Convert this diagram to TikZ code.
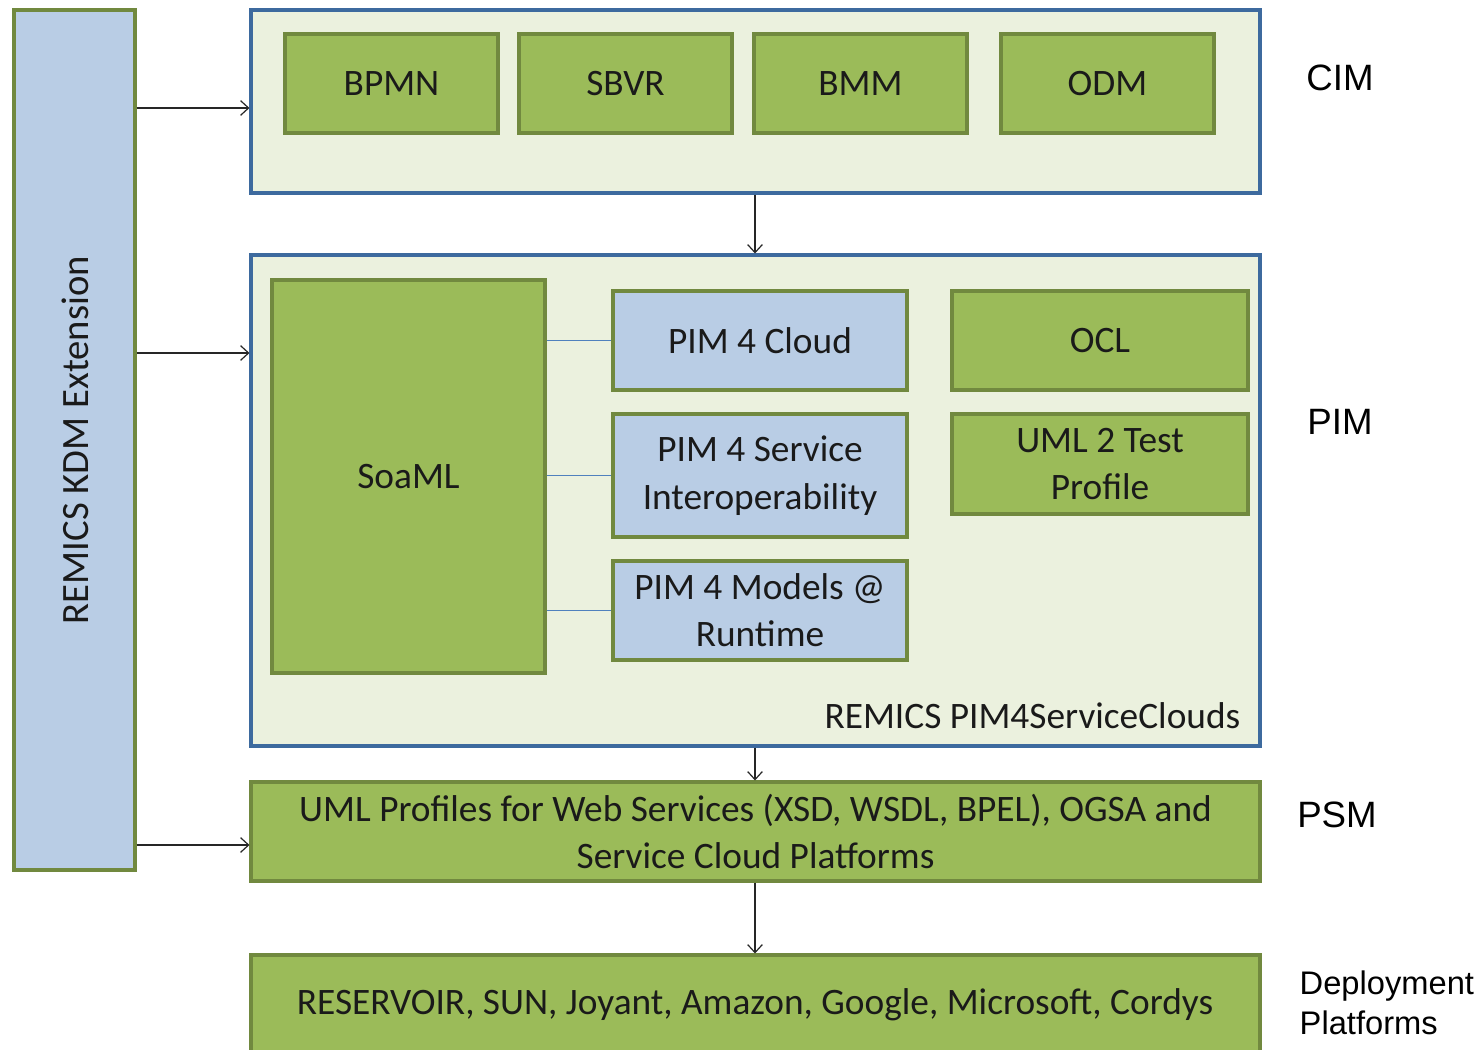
\documentclass[tikz,border=0pt]{standalone}
\usepackage{fontspec}
\setmainfont{Carlito}
\newfontfamily\arialf{Liberation Sans}
\usetikzlibrary{arrows.meta}
\definecolor{gfill}{HTML}{9BBB59}
\definecolor{gborder}{HTML}{71893F}
\definecolor{bfill}{HTML}{B9CDE5}
\definecolor{cfill}{HTML}{EBF1DE}
\definecolor{cborder}{HTML}{3D6A9E}
\definecolor{lnblue}{HTML}{4F81BD}
\definecolor{txt}{HTML}{1A1A1A}
\tikzset{
  sz/.style 2 args={minimum width=#1*0.75pt, minimum height=#2*0.75pt},
  boxfont/.style={text=txt, font=\fontsize{28}{35.5}\selectfont, align=center},
  greenbox/.style={draw=gborder, fill=gfill, line width=2.3pt, inner sep=0pt, boxfont},
  bluebox/.style={draw=gborder, fill=bfill, line width=2.3pt, inner sep=0pt, boxfont},
  container/.style={draw=cborder, fill=cfill, line width=2.3pt, inner sep=0pt},
  arr/.style={-{Straight Barb[length=6pt,width=11pt]}, line width=0.9pt, draw=black!85},
  link/.style={draw=lnblue, line width=0.8pt},
  side/.style={font=\arialf\fontsize{27.5}{30}\selectfont, text=black}
}
\begin{document}
\begin{tikzpicture}[x=0.75pt,y=-0.75pt]
\clip (0,0) rectangle (1484,1049);
\fill[white] (0,0) rectangle (1484,1049);
% KDM
\node[bluebox, sz={121}{860}] (kdm) at (74.5,440) {};
\node[rotate=90, boxfont, font=\fontsize{29}{34}\selectfont] (kdmt) at (75,440) {REMICS KDM Extension};
% CIM container
\node[container, sz={1009}{183}] (cim) at (755.5,101.5) {};
\node[greenbox, sz={213}{99}] (bpmn) at (391.5,83.5) {BPMN};
\node[greenbox, sz={213}{99}] (sbvr) at (625.5,83.5) {SBVR};
\node[greenbox, sz={213}{99}] (bmm) at (860.5,83.5) {BMM};
\node[greenbox, sz={213}{99}] (odm) at (1107.5,83.5) {ODM};
% PIM container
\node[container, sz={1009}{491}] (pim) at (755.5,500.5) {};
\node[greenbox, sz={273}{393}] (soaml) at (408.5,476.5) {SoaML};
\node[bluebox, sz={294}{99}] (pc) at (760,340.5) {PIM 4 Cloud};
\node[bluebox, sz={294}{123}] (psi) at (760,475.5) {PIM 4 Service\\Interoperability};
\node[bluebox, sz={294}{99}] (pmr) at (760,610.5) {PIM 4 Models @\\Runtime};
\node[greenbox, sz={296}{99}] (ocl) at (1100,340.5) {OCL};
\node[greenbox, sz={296}{100}] (utp) at (1100,464) {UML 2 Test\\Profile};
\node[anchor=east, boxfont] (pimlab) at (1245,716) {REMICS PIM4ServiceClouds};
% PSM
\node[greenbox, sz={1009}{99}] (psm) at (755.5,831.5) {UML Profiles for Web Services (XSD, WSDL, BPEL), OGSA and\\Service Cloud Platforms};
% Deployment
\node[greenbox, sz={1009}{105}] (dep) at (755.5,1007.5) {};
\node[boxfont] (dept) at (755,1005) {RESERVOIR, SUN, Joyant, Amazon, Google, Microsoft, Cordys};
% links
\draw[link] (soaml.east |- pc.west) -- (pc.west);
\draw[link] (soaml.east |- psi.west) -- (psi.west);
\draw[link] (soaml.east |- pmr.west) -- (pmr.west);
% arrows
\draw[arr] (cim.south -| 755,0) -- (pim.north -| 755,0);
\draw[arr] (pim.south -| 755,0) -- (psm.north -| 755,0);
\draw[arr] (psm.south -| 755,0) -- (dep.north -| 755,0);
\draw[arr] (kdm.east |- 0,108) -- (cim.west |- 0,108);
\draw[arr] (kdm.east |- 0,353) -- (pim.west |- 0,353);
\draw[arr] (kdm.east |- 0,845) -- (psm.west |- 0,845);
% side labels
\node[side] (lcim) at (1340,78) {CIM};
\node[side] (lpim) at (1340,422) {PIM};
\node[side] (lpsm) at (1337,815) {PSM};
\node[side, anchor=west, align=left, font=\arialf\fontsize{24.5}{30}\selectfont] (ldep) at (1295,1003) {Deployment\\Platforms};
\end{tikzpicture}
\end{document}
